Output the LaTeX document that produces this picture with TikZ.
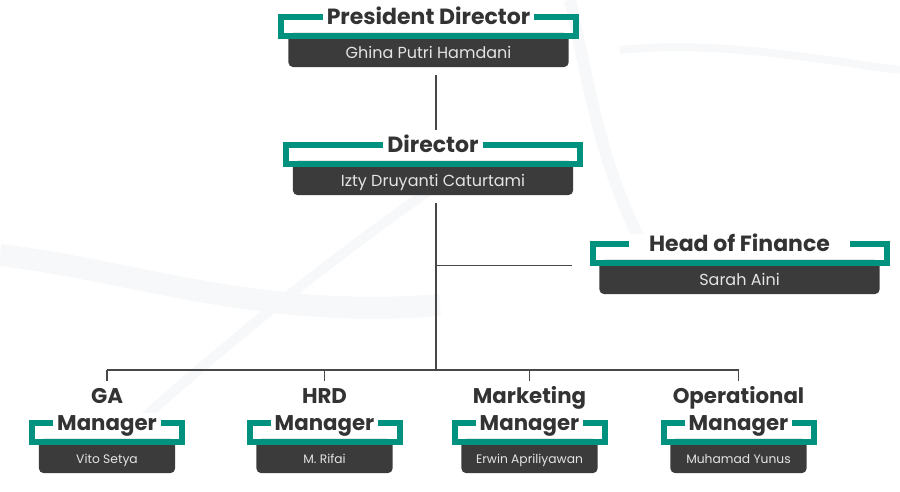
\documentclass[tikz,border=0pt]{standalone}
\usepackage{fontspec}
\setmainfont{Poppins}
\usetikzlibrary{positioning, backgrounds}

\definecolor{orgteal}{HTML}{00927E}
\definecolor{boxgray}{HTML}{3B3B3B}
\definecolor{namegray}{HTML}{E4E4E4}
\definecolor{titlegray}{HTML}{333333}
\definecolor{linegray}{HTML}{474747}
\definecolor{wavegray}{HTML}{F7F8F9}

\begin{document}
\begin{tikzpicture}[
      x=1pt, y=-1pt,
      namebox/.style={text=namegray, minimum height=28pt, inner sep=0pt, text height=11pt, text depth=0pt, font=\fontsize{16}{19}\selectfont},
      bigbox/.style={namebox, minimum width=280pt},
      smallbox/.style={namebox, minimum width=136pt, text height=9pt, font=\fontsize{12.3}{15}\selectfont},
      bracket/.style={draw=orgteal, line width=6pt, minimum height=19pt, inner sep=0pt},
      title/.style={fill=white, inner xsep=4pt, inner ysep=2pt, text=titlegray, text height=15.5pt, text depth=0pt, font=\bfseries\fontsize{22}{26}\selectfont},
      mgrtitle/.style={title, font=\bfseries\fontsize{21.3}{25}\selectfont},
      link/.style={draw=linegray, line width=1.2pt}
    ]
    \useasboundingbox (0,0) rectangle (900,492);

    % top of the chart
    \node[bigbox] (pdn) at (428.5,53) {Ghina Putri Hamdani};
    \node[bracket, minimum width=295pt, above=0pt of pdn] (pdb) {};
    \node[title] (pdt) at ([yshift=-3pt]pdb.north) {President Director};

    \node[bigbox] (dirn) at (433,181) {Izty Druyanti Caturtami};
    \node[bracket, minimum width=294pt, above=0pt of dirn] (dirb) {};
    \node[title] (dirt) at ([yshift=-3pt]dirb.north) {Director};

    \node[bigbox] (finn) at (739.5,280) {Sarah Aini};
    \node[bracket, minimum width=294pt, above=0pt of finn] (finb) {};
    \node[title, inner xsep=20pt] (fint) at ([yshift=-3pt]finb.north) {Head of Finance};

    % managers
    \node[smallbox] (gan) at (107,459) {Vito Setya};
    \node[bracket, minimum width=150pt, above=0pt of gan] (gab) {};
    \node[mgrtitle] (gat) at ([yshift=-3pt]gab.north) {Manager};
    \node[mgrtitle] (ga1) at ([yshift=27pt]gat) {GA};

    \node[smallbox] (hrdn) at (324.5,459) {M. Rifai};
    \node[bracket, minimum width=150pt, above=0pt of hrdn] (hrdb) {};
    \node[mgrtitle] (hrdt) at ([yshift=-3pt]hrdb.north) {Manager};
    \node[mgrtitle] (hrd1) at ([yshift=27pt]hrdt) {HRD};

    \node[smallbox] (mktn) at (529.5,459) {Erwin Apriliyawan};
    \node[bracket, minimum width=150pt, above=0pt of mktn] (mktb) {};
    \node[mgrtitle] (mktt) at ([yshift=-3pt]mktb.north) {Manager};
    \node[mgrtitle] (mkt1) at ([yshift=27pt]mktt) {Marketing};

    \node[smallbox] (opn) at (738.5,459) {Muhamad Yunus};
    \node[bracket, minimum width=150pt, above=0pt of opn] (opb) {};
    \node[mgrtitle] (opt) at ([yshift=-3pt]opb.north) {Manager};
    \node[mgrtitle] (op1) at ([yshift=27pt]opt) {Operational};

    % connectors
    \coordinate (trunk) at (436,0);
    \coordinate (bus) at (436,370);
    \draw[link, shorten <=8pt, shorten >=5pt] (pdn.south -| trunk) -- (dirt.north -| trunk);
    \draw[link, shorten <=8pt] (dirn.south -| trunk) -- (bus);
    \draw[link, shorten >=18pt] (finb.south west -| trunk) -- (finb.south west);
    \draw[link] (bus -| ga1) -- (bus -| op1);
    \foreach \n in {ga1, hrd1, mkt1, op1}
      \draw[link, shorten >=5pt] (bus -| \n) -- (\n.north);

    \begin{scope}[on background layer]
      % faint waves behind the chart
      \draw[wavegray, line width=22pt] (0,255) .. controls (130,270) and (260,320) .. (440,305);
      \draw[wavegray, line width=10pt] (130,430) .. controls (230,340) and (330,260) .. (430,190);
      \draw[wavegray, line width=12pt] (570,0) .. controls (590,90) and (600,160) .. (640,240);
      \draw[wavegray, line width=8pt] (620,50) .. controls (720,40) and (820,60) .. (900,70);
      \foreach \n in {pdn, dirn, finn, gan, hrdn, mktn, opn}
        \fill[boxgray, rounded corners=5pt] ([yshift=6pt]\n.north west) rectangle (\n.south east);
    \end{scope}
  \end{tikzpicture}
\end{document}
